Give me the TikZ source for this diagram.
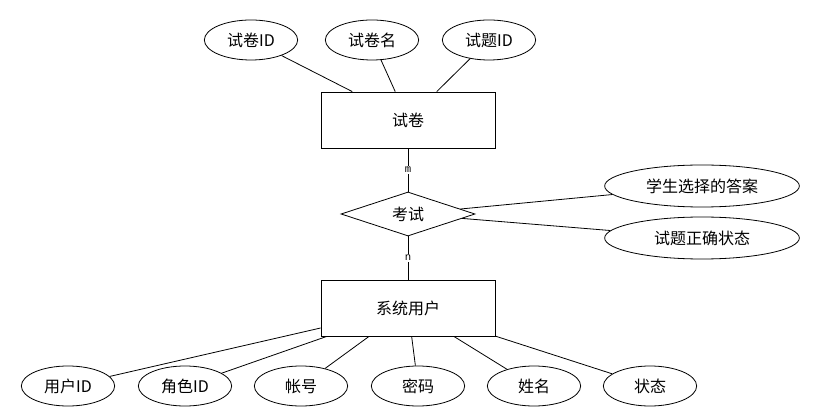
\documentclass[tikz,border=0pt]{standalone}
\usepackage{fontspec}
\setmainfont{Noto Sans CJK SC}
\newfontfamily\monofont{Liberation Mono}
\usetikzlibrary{shapes.geometric,positioning}

\begin{document}
\begin{tikzpicture}
[x=0.75pt,y=-0.75pt,line width=0.6pt,
 entity/.style={draw,rectangle,minimum width=130.5pt,minimum height=42pt,font=\fontsize{12}{14}\selectfont},
 attr/.style={draw,ellipse,minimum width=70pt,minimum height=30pt,inner sep=0pt,font=\fontsize{12}{14}\selectfont},
 longattr/.style={attr,minimum width=146pt,minimum height=31.5pt},
 rel/.style={draw,diamond,aspect=3,minimum width=100.5pt,minimum height=33pt,inner sep=0pt,font=\fontsize{12}{14}\selectfont},
 card/.style={fill=white,inner sep=1pt,font=\monofont\fontsize{8}{9}\selectfont}]
\useasboundingbox (0,0) rectangle (831,420);
\draw (408,120) node[entity] (paper) {试卷};
\draw (251,40) node[attr] (pid) {试卷ID};
\draw (372,40) node[attr] (pname) {试卷名};
\draw (489,40) node[attr] (qid) {试题ID};
\draw (408,214) node[rel] (exam) {考试};
\draw (702,186) node[longattr] (answer) {学生选择的答案};
\draw (702,238) node[longattr] (state) {试题正确状态};
\draw (408,308) node[entity] (user) {系统用户};
\draw (68,386) node[attr] (uid) {用户ID};
\draw (185,386) node[attr] (rid) {角色ID};
\draw (301,386) node[attr] (acct) {帐号};
\draw (418,386) node[attr] (pwd) {密码};
\draw (534,386) node[attr] (uname) {姓名};
\draw (650,386) node[attr] (ustate) {状态};
\draw (pid)--(paper);
\draw (pname)--(paper);
\draw (qid)--(paper);
\draw (paper)--node[card]{m}(exam);
\draw (exam)--node[card]{n}(user);
\draw (exam)--(answer);
\draw (exam)--(state);
\foreach \a in {uid,rid,acct,pwd,uname,ustate}
  \draw (user)--(\a);
\end{tikzpicture}
\end{document}
